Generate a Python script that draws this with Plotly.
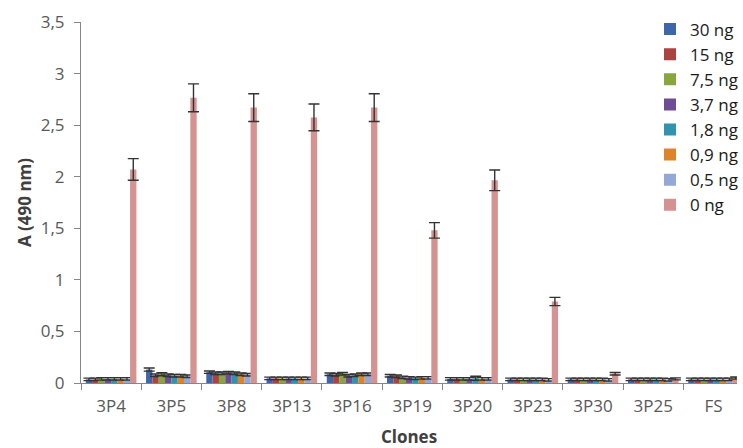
import plotly.graph_objects as go

# Clones tested and antigen amounts
clones = ["3P4", "3P5", "3P8", "3P13", "3P16", "3P19", "3P20", "3P23", "3P30", "3P25", "FS"]
series_names = ["30 ng", "15 ng", "7,5 ng", "3,7 ng", "1,8 ng", "0,9 ng", "0,5 ng", "0 ng"]
series_colors = ["#3D67AA", "#AC4340", "#88A540", "#6D4D93", "#3193AE", "#DF8328", "#93A8D5", "#D49391"]

# Absorbance at 490 nm (mean) per antigen amount
a_30 = [0.035, 0.13, 0.105, 0.045, 0.085, 0.07, 0.04, 0.035, 0.035, 0.035, 0.035]
a_15 = [0.035, 0.075, 0.095, 0.045, 0.08, 0.065, 0.04, 0.035, 0.035, 0.035, 0.035]
a_7_5 = [0.04, 0.085, 0.095, 0.045, 0.09, 0.055, 0.04, 0.035, 0.035, 0.035, 0.035]
a_3_7 = [0.04, 0.075, 0.1, 0.045, 0.07, 0.05, 0.04, 0.035, 0.035, 0.035, 0.035]
a_1_8 = [0.04, 0.07, 0.095, 0.045, 0.075, 0.045, 0.045, 0.035, 0.035, 0.035, 0.035]
a_0_9 = [0.04, 0.07, 0.085, 0.045, 0.085, 0.05, 0.04, 0.035, 0.035, 0.035, 0.035]
a_0_5 = [0.04, 0.065, 0.08, 0.045, 0.085, 0.05, 0.04, 0.03, 0.03, 0.03, 0.035]
a_0 = [2.07, 2.765, 2.67, 2.575, 2.67, 1.48, 1.965, 0.79, 0.09, 0.04, 0.048]

# Standard deviations
e_30 = [0.012, 0.015, 0.012, 0.012, 0.012, 0.012, 0.012, 0.012, 0.012, 0.012, 0.012]
e_15 = [0.012, 0.012, 0.012, 0.012, 0.012, 0.012, 0.012, 0.012, 0.012, 0.012, 0.012]
e_7_5 = [0.012, 0.015, 0.012, 0.012, 0.012, 0.012, 0.012, 0.012, 0.012, 0.012, 0.012]
e_3_7 = [0.012, 0.012, 0.012, 0.012, 0.012, 0.012, 0.012, 0.012, 0.012, 0.012, 0.012]
e_1_8 = [0.012, 0.012, 0.012, 0.012, 0.012, 0.012, 0.02, 0.012, 0.012, 0.012, 0.012]
e_0_9 = [0.012, 0.012, 0.012, 0.012, 0.012, 0.012, 0.012, 0.012, 0.012, 0.012, 0.012]
e_0_5 = [0.012, 0.012, 0.012, 0.012, 0.012, 0.012, 0.012, 0.012, 0.012, 0.012, 0.012]
e_0 = [0.105, 0.135, 0.135, 0.13, 0.135, 0.075, 0.1, 0.04, 0.012, 0.01, 0.01]

values = [a_30, a_15, a_7_5, a_3_7, a_1_8, a_0_9, a_0_5, a_0]
errors = [e_30, e_15, e_7_5, e_3_7, e_1_8, e_0_9, e_0_5, e_0]

y_ticks = [0, 0.5, 1, 1.5, 2, 2.5, 3, 3.5]
y_tick_text = ["0", "0,5", "1", "1,5", "2", "2,5", "3", "3,5"]

FONT = "Open Sans"

fig = go.Figure()
for i, (name, color, vals, errs) in enumerate(zip(series_names, series_colors, values, errors)):
    fig.add_trace(go.Bar(
        x=clones, y=vals, name=name, legendgroup=f"g{i}",
        marker=dict(color=color, line=dict(width=0)),
        error_y=dict(type="data", array=errs, visible=True,
                     color="#333333", thickness=1.4, width=5.5),
    ))

fig.update_layout(
    width=743, height=448,
    margin=dict(l=81, r=0, t=22, b=65),
    paper_bgcolor="white", plot_bgcolor="white",
    barmode="group", bargap=0.16, bargroupgap=0,
    font=dict(family=FONT, size=17, color="#595959"),
    legend=dict(
        x=0.868, y=1.029, xanchor="left", yanchor="top",
        bgcolor="rgba(0,0,0,0)", tracegroupgap=0,
        font=dict(family=FONT, size=17, color="#1a1a1a"),
    ),
    xaxis=dict(
        type="category", range=[-0.5, 10.39],
        showline=True, linecolor="#868686", linewidth=1,
        ticks="outside", tickson="boundaries", ticklen=6, tickcolor="#868686",
        tickfont=dict(family=FONT, size=17, color="#595959"),
        ticklabelstandoff=8,
        showgrid=False,
        title=dict(text="<b>Clones</b>", standoff=15,
                   font=dict(family=FONT, size=17, color="#404040")),
    ),
    yaxis=dict(
        range=[0, 3.5], tickvals=y_ticks, ticktext=y_tick_text,
        showline=True, linecolor="#868686", linewidth=1,
        ticks="outside", ticklen=6, tickcolor="#868686",
        tickfont=dict(family=FONT, size=17, color="#595959"),
        ticklabelstandoff=6,
        showgrid=False, zeroline=False,
        title=dict(text="<b>A (490 nm)</b>", standoff=4,
                   font=dict(family=FONT, size=17, color="#404040")),
    ),
)

fig.write_html("out.html")
